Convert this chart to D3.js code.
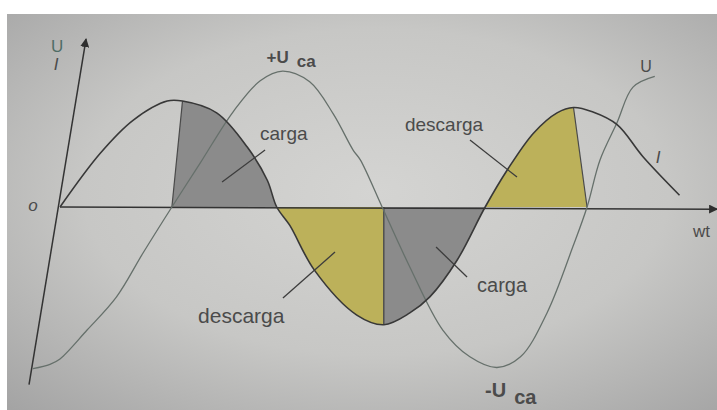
<!DOCTYPE html>
<html>
<head>
<meta charset="utf-8">
<script src="https://cdn.jsdelivr.net/npm/d3@7"></script>
<style>
  body { margin: 0; background: #ffffff; }
  svg { display: block; }
  text { font-family: "Liberation Sans", Arial, sans-serif; fill: #4b4b4b; }
</style>
</head>
<body>
<div id="chart"></div>
<script>
// current I as [wt in degrees, amplitude]
var currentI = [[0, 0], [34, 0.50], [62, 0.81], [91, 0.99], [104, 0.99], [133, 0.88], [159, 0.56],
    [176, 0.25], [184, 0], [195, -0.17], [216, -0.59], [252, -1.01], [275, -1.10], [297, -0.99],
    [314, -0.84], [337, -0.50], [361, 0], [380, 0.35], [402, 0.69], [422, 0.88], [436, 0.93],
    [452, 0.89], [473, 0.77], [495, 0.47], [526, 0.11]];

// voltage U
var voltageU = [[-23, -1.51], [-8.5, -1.47], [0, -1.42], [23, -1.15], [48, -0.84], [70.5, -0.43],
    [95, 0], [119, 0.41], [147, 0.89], [170, 1.18], [189, 1.27], [212, 1.17], [232, 0.87],
    [249, 0.53], [255, 0.44], [273.5, 0], [297, -0.56], [325, -1.15], [348, -1.40], [371, -1.50],
    [391, -1.40], [413.5, -0.99], [435.5, -0.37], [447.5, 0], [458.5, 0.44], [473, 0.79],
    [486.5, 1.12], [505, 1.22]];

// shaded regions of the I curve: corner = I peak/trough point, edge = where the
// boundary line meets the axis (U zero crossing)
var regions = [
    {from: 104, to: 184, corner: [104, 0.99], edge: 95, kind: 'carga'},
    {from: 184, to: 275, corner: [275, -1.10], edge: 275, kind: 'descarga'},
    {from: 275, to: 361, corner: [275, -1.10], edge: 275, kind: 'carga'},
    {from: 361, to: 447.5, corner: [436, 0.93], edge: 447.5, kind: 'descarga'}
];

var yAxisEnds = [[-26.3, -1.66], [22.1, 1.57]];
var xAxisEnds = [[0, 0], [558, -0.02]];

var labels = [
    {t: 'carga', x: 169.8, y: 0.63, size: 19},
    {t: 'descarga', x: 292.9, y: 0.71, size: 19},
    {t: 'descarga', x: 117.2, y: -1.084, size: 21},
    {t: 'carga', x: 354.1, y: -0.794, size: 20}
];
var leaders = [
    [[174.1, 0.533], [137.6, 0.234]],
    [[348.1, 0.626], [388.0, 0.280]],
    [[189.3, -0.850], [233.5, -0.421]],
    [[319.3, -0.374], [345.6, -0.654]]
];

var width = 717, height = 410;

var svg = d3.select('#chart')
  .append('svg')
    .attr('width', width)
    .attr('height', height);

var defs = svg.append('defs');
var grad = defs.append('radialGradient')
    .attr('id', 'paper')
    .attr('cx', '52%').attr('cy', '45%').attr('r', '75%');
grad.append('stop').attr('offset', '0%').attr('stop-color', '#d4d4d2');
grad.append('stop').attr('offset', '55%').attr('stop-color', '#c7c7c5');
grad.append('stop').attr('offset', '100%').attr('stop-color', '#a4a4a4');

defs.append('marker')
    .attr('id', 'arrow')
    .attr('viewBox', '0 0 10 10')
    .attr('refX', 9).attr('refY', 5)
    .attr('markerWidth', 9).attr('markerHeight', 9)
    .attr('markerUnits', 'userSpaceOnUse')
    .attr('orient', 'auto')
  .append('path')
    .attr('d', 'M0,0 L10,5 L0,10 Z')
    .attr('fill', '#2e2e2e');

svg.append('rect')
    .attr('x', 7).attr('y', 14)
    .attr('width', width - 7).attr('height', height - 14)
    .attr('fill', 'url(#paper)');

var x = d3.scaleLinear().domain([0, 180]).range([60, 272]);
var y = d3.scaleLinear().domain([0, 1]).range([207, 100]);

var line = d3.line()
    .x(function(d) { return x(d[0]); })
    .y(function(d) { return y(d[1]); })
    .curve(d3.curveCatmullRom.alpha(0.5));
var area = d3.area()
    .x(function(d) { return x(d[0]); })
    .y0(y(0))
    .y1(function(d) { return y(d[1]); })
    .curve(d3.curveCatmullRom.alpha(0.5));
var straight = d3.line()
    .x(function(d) { return x(d[0]); })
    .y(function(d) { return y(d[1]); });

// shaded areas: whole I area clipped to each region
regions.forEach(function(r, i) {
    var top = 1.8, bot = -1.8;
    var c = r.corner, e = r.edge;
    // slanted boundary extended to top/bottom
    var ext = function(v) { return e + (c[0] - e) * v / c[1]; };
    var poly;
    if (i == 0) {
        poly = [[e, 0], [ext(top), top], [r.to, top], [r.to, 0]];
    } else if (i == 3) {
        poly = [[r.from, 0], [r.from, top], [ext(top), top], [e, 0]];
    } else {
        poly = [[r.from, top], [r.to, top], [r.to, bot], [r.from, bot]];
    }
    defs.append('clipPath').attr('id', 'clip' + i)
      .append('path')
        .attr('d', straight(poly) + 'Z');
    svg.append('path')
        .datum(currentI)
        .attr('d', area)
        .attr('clip-path', 'url(#clip' + i + ')')
        .attr('fill', r.kind == 'carga' ? '#8b8b8b' : '#bcb15a');
    svg.append('path')
        .attr('d', straight([c, [e, 0]]))
        .attr('stroke', '#4a4a4a')
        .attr('stroke-width', 1.2)
        .attr('fill', 'none');
});

// axes
svg.append('path')
    .attr('d', straight(xAxisEnds))
    .attr('stroke', '#333')
    .attr('stroke-width', 1.5)
    .attr('fill', 'none')
    .attr('marker-end', 'url(#arrow)');
svg.append('path')
    .attr('d', straight(yAxisEnds))
    .attr('stroke', '#333')
    .attr('stroke-width', 1.5)
    .attr('fill', 'none')
    .attr('marker-end', 'url(#arrow)');

// curves
svg.append('path')
    .datum(voltageU)
    .attr('d', line)
    .attr('stroke', '#66706b')
    .attr('stroke-width', 1.3)
    .attr('fill', 'none');
svg.append('path')
    .datum(currentI)
    .attr('d', line)
    .attr('stroke', '#383838')
    .attr('stroke-width', 1.6)
    .attr('fill', 'none');

// leaders and labels
leaders.forEach(function(l) {
    svg.append('path')
        .attr('d', straight(l))
        .attr('stroke', '#3c3c3c')
        .attr('stroke-width', 1.3);
});
labels.forEach(function(l) {
    svg.append('text')
        .attr('x', x(l.x)).attr('y', y(l.y))
        .attr('font-size', l.size)
        .text(l.t);
});

svg.append('text').attr('x', x(-2.5)).attr('y', y(1.449))
    .attr('text-anchor', 'middle').attr('font-size', 17)
    .style('fill', '#4f6d66').text('U');
svg.append('text').attr('x', x(-3.4)).attr('y', y(1.28))
    .attr('text-anchor', 'middle').attr('font-size', 17).attr('font-style', 'italic')
    .text('I');
svg.append('text').attr('x', x(-22.9)).attr('y', y(-0.04))
    .attr('text-anchor', 'middle').attr('font-size', 17).attr('font-style', 'italic')
    .text('o');

var plus = svg.append('text').attr('x', x(175.4)).attr('y', y(1.346))
    .attr('font-size', 17).attr('font-weight', 'bold');
plus.append('tspan').text('+U');
plus.append('tspan').attr('dx', 8).attr('dy', 4).text('ca');

var minus = svg.append('text').attr('x', x(360.9)).attr('y', y(-1.776))
    .attr('font-size', 20).attr('font-weight', 'bold');
minus.append('tspan').text('-U');
minus.append('tspan').attr('dx', 8).attr('dy', 7).text('ca');

svg.append('text').attr('x', x(497.6)).attr('y', y(1.262))
    .attr('text-anchor', 'middle').attr('font-size', 16).text('U');
svg.append('text').attr('x', x(507.8)).attr('y', y(0.411))
    .attr('text-anchor', 'middle').attr('font-size', 17).attr('font-style', 'italic').text('I');
svg.append('text').attr('x', x(537.5)).attr('y', y(-0.28))
    .attr('font-size', 17).text('wt');
</script>
</body>
</html>
